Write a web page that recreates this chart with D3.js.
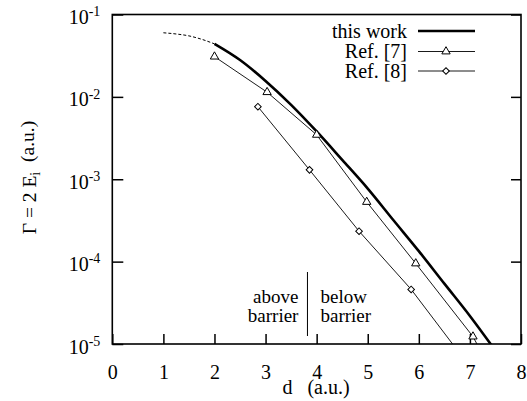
<!DOCTYPE html>
<html>
<head>
<meta charset="utf-8">
<script src="https://cdn.jsdelivr.net/npm/d3@7"></script>
<style>
  html, body { margin: 0; padding: 0; background: #fff; }
  svg { display: block; font-family: "Liberation Serif", "Times New Roman", serif; }
</style>
</head>
<body>
<svg id="chart" width="527" height="401"></svg>
<script>
// Distance d (a.u.) and width Γ (a.u.)
const workDashedD = [1.0, 1.25, 1.5, 1.75, 2.0];
const workDashedG = [0.060, 0.058, 0.055, 0.050, 0.044];
const workD = [2.0, 2.5, 3.0, 3.5, 4.0, 4.5, 5.0, 5.5, 6.0, 6.5, 7.0, 7.5];
const workG = [0.044, 0.028, 0.0156, 0.0080, 0.0038, 0.00172, 0.00077, 0.00032, 0.000134, 0.000054, 0.0000219, 0.0000083];
const ref7D = [2.0, 3.03, 4.0, 4.98, 5.94, 7.06, 8.0];
const ref7G = [0.0308, 0.0114, 0.00346, 0.00053, 0.000095, 0.0000123, 0.000001];
const ref8D = [2.85, 3.86, 4.83, 5.85, 6.85];
const ref8G = [0.0076, 0.0013, 0.000234, 0.000046, 0.000007];
const xTicks = [0, 1, 2, 3, 4, 5, 6, 7, 8];
const yTicks = [1e-5, 1e-4, 1e-3, 1e-2, 1e-1];
const yTickExp = ["-5", "-4", "-3", "-2", "-1"];
const legendLabels = ["this work", "Ref. [7]", "Ref. [8]"];
const barrierD = 3.82;

const svg = d3.select("#chart");
const plotL = 112.3, plotR = 521, plotT = 14.5, plotB = 344;

const x = d3.scaleLinear().domain([0, 8]).range([plotL, plotR]);
const y = d3.scaleLog().domain([1e-5, 1e-1]).range([plotB, plotT]);

svg.append("defs").append("clipPath").attr("id", "plotClip")
  .append("rect").attr("x", plotL).attr("y", plotT)
  .attr("width", plotR - plotL).attr("height", plotB - plotT);

// Axes with inward ticks
const xAxis = svg.append("g").attr("transform", `translate(0,${plotB})`)
  .call(d3.axisBottom(x).tickValues(xTicks).tickFormat(d3.format("d"))
    .tickSizeInner(-10).tickSizeOuter(0).tickPadding(21));
xAxis.attr("font-family", null);
xAxis.selectAll("text").attr("font-size", 20).attr("fill", "#000");

const yAxis = svg.append("g").attr("transform", `translate(${plotL},0)`)
  .call(d3.axisLeft(y).tickValues(yTicks).tickFormat(() => "")
    .tickSizeInner(-11).tickSizeOuter(0));
yAxis.attr("font-family", null);
yAxis.selectAll(".tick").each(function(d, i) {
  const t = d3.select(this).select("text")
    .attr("x", -12).attr("dy", "0.45em").attr("text-anchor", "end")
    .attr("fill", "#000").attr("font-size", 20);
  t.append("tspan").text("10");
  t.append("tspan").attr("font-size", 14).attr("dy", "-0.55em").text(yTickExp[i]);
});

svg.append("g").attr("transform", `translate(${plotR},0)`)
  .call(d3.axisRight(y).tickValues(yTicks).tickFormat(() => "")
    .tickSizeInner(-10).tickSizeOuter(0));

svg.selectAll(".tick line").attr("stroke", "#000").attr("stroke-width", 1.5);
svg.selectAll(".domain").attr("stroke", "none");

// Frame
svg.append("rect").attr("x", plotL).attr("y", plotT)
  .attr("width", plotR - plotL).attr("height", plotB - plotT)
  .attr("fill", "none").attr("stroke", "#000").attr("stroke-width", 1.6);

const plot = svg.append("g").attr("clip-path", "url(#plotClip)");
const line = d3.line().x(p => x(p[0])).y(p => y(p[1]));
const line3 = d3.line().curve(d3.curveMonotoneX).x(p => x(p[0])).y(p => y(p[1]));

// This work: dashed above-barrier extension, thick solid curve
plot.append("path").datum(d3.zip(workDashedD, workDashedG))
  .attr("d", line3).attr("fill", "none").attr("stroke", "#000")
  .attr("stroke-width", 1).attr("stroke-dasharray", "3,2");
plot.append("path").datum(d3.zip(workD, workG))
  .attr("d", line3).attr("fill", "none").attr("stroke", "#000")
  .attr("stroke-width", 2.6);

// Ref. [7] and Ref. [8]
const ref7 = d3.zip(ref7D, ref7G);
const ref8 = d3.zip(ref8D, ref8G);
plot.append("path").datum(ref7).attr("d", line).attr("fill", "none")
  .attr("stroke", "#000").attr("stroke-width", 0.9);
plot.append("path").datum(ref8).attr("d", line).attr("fill", "none")
  .attr("stroke", "#000").attr("stroke-width", 0.9);

const tri = d3.symbol().type(d3.symbolTriangle).size(30);
const dia = d3.symbol().type(d3.symbolSquare).size(22);
plot.selectAll(".tri").data(ref7).join("path").attr("class", "tri")
  .attr("d", tri).attr("transform", p => `translate(${x(p[0])},${y(p[1])})`)
  .attr("fill", "#fff").attr("stroke", "#000").attr("stroke-width", 1);
plot.selectAll(".dia").data(ref8).join("path").attr("class", "dia")
  .attr("d", dia).attr("transform", p => `translate(${x(p[0])},${y(p[1])}) rotate(45)`)
  .attr("fill", "#fff").attr("stroke", "#000").attr("stroke-width", 1);

// Barrier annotation
svg.append("line").attr("x1", x(barrierD)).attr("x2", x(barrierD))
  .attr("y1", 272).attr("y2", 336).attr("stroke", "#000").attr("stroke-width", 1);
const ann = svg.append("g").attr("font-size", 19).attr("fill", "#000");
ann.append("text").attr("x", x(barrierD) - 9).attr("y", 303).attr("text-anchor", "end").text("above");
ann.append("text").attr("x", x(barrierD) - 9).attr("y", 322).attr("text-anchor", "end").text("barrier");
ann.append("text").attr("x", x(barrierD) + 13).attr("y", 303).text("below");
ann.append("text").attr("x", x(barrierD) + 13).attr("y", 322).text("barrier");

// Legend
const lg = svg.append("g").attr("font-size", 20);
const lgY = [31, 51.5, 71];
const lgBase = [37.5, 58, 77.5];
legendLabels.forEach((lab, i) => {
  lg.append("text").attr("x", 407).attr("y", lgBase[i]).attr("text-anchor", "end").text(lab);
  lg.append("line").attr("x1", 418).attr("x2", 475).attr("y1", lgY[i]).attr("y2", lgY[i])
    .attr("stroke", "#000").attr("stroke-width", i === 0 ? 2.6 : 0.9);
});
lg.append("path").attr("d", tri).attr("transform", `translate(446,${lgY[1]})`)
  .attr("fill", "#fff").attr("stroke", "#000");
lg.append("path").attr("d", dia).attr("transform", `translate(446,${lgY[2]}) rotate(45)`)
  .attr("fill", "#fff").attr("stroke", "#000");

// Axis titles
svg.append("text").attr("x", 316).attr("y", 394).attr("text-anchor", "middle")
  .attr("font-size", 20).attr("xml:space", "preserve").text("d   (a.u.)");
const yt = svg.append("text").attr("transform", "translate(36,177.5) rotate(-90)")
  .attr("text-anchor", "middle").attr("font-size", 19.5);
yt.append("tspan").text("Γ = 2 E");
yt.append("tspan").attr("font-size", 14).attr("dy", "0.3em").text("i");
yt.append("tspan").attr("dy", "-0.3em").attr("xml:space", "preserve").text("  (a.u.)");
</script>
</body>
</html>
